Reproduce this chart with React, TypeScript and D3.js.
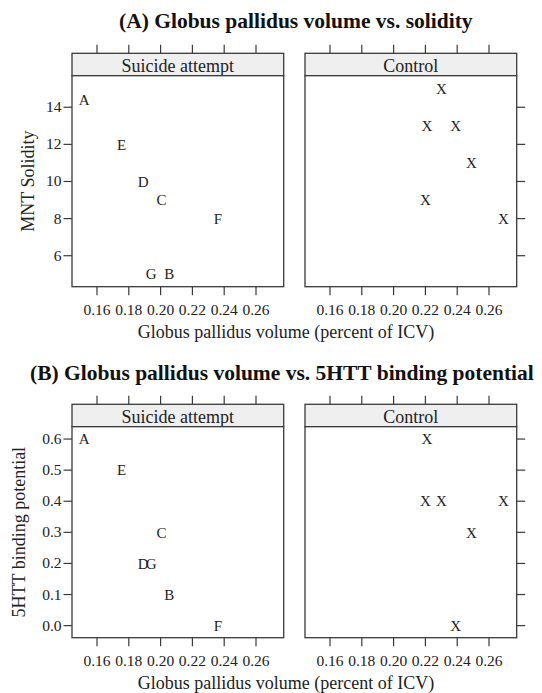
import React from "react";
import * as d3 from "d3";

// ---------- data ----------
const volumeTicks = [0.16, 0.18, 0.2, 0.22, 0.24, 0.26];
const solidityTicks = [6, 8, 10, 12, 14];
const bindingTicks = [0.0, 0.1, 0.2, 0.3, 0.4, 0.5, 0.6];

const suicideLabels = ["A", "B", "C", "D", "E", "F", "G"];
const suicideVolume = [0.152, 0.2055, 0.2005, 0.189, 0.1755, 0.236, 0.194];
const suicideSolidity = [14.4, 5, 9, 10, 12, 8, 5];
const suicideBinding = [0.6, 0.1, 0.3, 0.2, 0.5, 0.0, 0.2];

const controlVolume = [0.23, 0.221, 0.239, 0.249, 0.22, 0.269];
const controlSolidity = [15, 13, 13, 11, 9, 8];
const controlBinding = [0.4, 0.6, 0.0, 0.3, 0.4, 0.4];

const groupNames = ["Suicide attempt", "Control"];
const titleA = "(A) Globus pallidus volume vs. solidity";
const titleB = "(B) Globus pallidus volume vs. 5HTT binding potential";
const xLabel = "Globus pallidus volume (percent of ICV)";
const yLabelA = "MNT Solidity";
const yLabelB = "5HTT binding potential";

// ---------- layout ----------
const FONT = "'Liberation Serif', 'Times New Roman', serif";
const STROKE = "#3a3a3a";
const panelLefts = [72, 305];
const panelW = 211.7;
const TICK = 8.5;

type Pt = { label: string; x: number; y: number };

function Figure({
  top,
  title,
  titleX,
  titleY,
  titleAnchor,
  yLabel,
  yLabelX,
  yDomain,
  yTicks,
  yFmt,
  left,
  right,
}: {
  top: number;
  title: string;
  titleX: number;
  titleY: number;
  titleAnchor: string;
  yLabel: string;
  yLabelX: number;
  yDomain: [number, number];
  yTicks: number[];
  yFmt: (v: number) => string;
  left: Pt[];
  right: Pt[];
}) {
  const stripH = 22.4;
  const plotTop = top + stripH;
  const plotH = 211;
  const plotBottom = plotTop + plotH;
  const y = d3.scaleLinear().domain(yDomain).range([plotBottom, plotTop]);
  const labelCenterX = 286;

  const panels = [left, right].map((pts, i) => {
    const x0 = panelLefts[i];
    const x = d3.scaleLinear().domain([0.14428, 0.27742]).range([x0, x0 + panelW]);
    return (
      <g key={i}>
        {/* strip */}
        <rect x={x0} y={top} width={panelW} height={stripH} fill="#efefef" stroke={STROKE} strokeWidth={1.3} />
        <text x={x0 + panelW / 2} y={top + 18.8} textAnchor="middle" fontSize={18} fontFamily={FONT} fill="#222">
          {groupNames[i]}
        </text>
        {/* plot frame */}
        <rect x={x0} y={plotTop} width={panelW} height={plotH} fill="white" stroke={STROKE} strokeWidth={1.3} />
        {/* top ticks */}
        {volumeTicks.map((t) => (
          <line key={"tt" + t} x1={x(t)} x2={x(t)} y1={top} y2={top - TICK} stroke={STROKE} strokeWidth={1.2} />
        ))}
        {/* bottom ticks + labels */}
        {volumeTicks.map((t) => (
          <g key={"bt" + t}>
            <line x1={x(t)} x2={x(t)} y1={plotBottom} y2={plotBottom + TICK} stroke={STROKE} strokeWidth={1.2} />
            <text x={x(t)} y={plotBottom + 28.5} textAnchor="middle" fontSize={15.5} fontFamily={FONT} fill="#222">
              {d3.format(".2f")(t)}
            </text>
          </g>
        ))}
        {/* y ticks */}
        {i === 0
          ? yTicks.map((t) => (
              <g key={"yt" + t}>
                <line x1={x0} x2={x0 - TICK} y1={y(t)} y2={y(t)} stroke={STROKE} strokeWidth={1.2} />
                <text x={x0 - TICK - 2} y={y(t) + 5} textAnchor="end" fontSize={15.5} fontFamily={FONT} fill="#222">
                  {yFmt(t)}
                </text>
              </g>
            ))
          : yTicks.map((t) => (
              <line key={"yt" + t} x1={x0 + panelW} x2={x0 + panelW + TICK} y1={y(t)} y2={y(t)} stroke={STROKE} strokeWidth={1.2} />
            ))}
        {/* points */}
        {pts.map((p, k) => (
          <text
            key={k}
            x={x(p.x)}
            y={y(p.y) + 5.2}
            textAnchor="middle"
            fontSize={15}
            fontFamily={FONT}
            fill="#222"
          >
            {p.label}
          </text>
        ))}
      </g>
    );
  });

  return (
    <g>
      <text x={titleX} y={titleY} textAnchor={titleAnchor} fontSize={21.5} fontWeight="bold" fontFamily={FONT} fill="#111">
        {title}
      </text>
      {panels}
      <text x={labelCenterX} y={plotBottom + 51} textAnchor="middle" fontSize={18} fontFamily={FONT} fill="#222">
        {xLabel}
      </text>
      <text
        transform={`translate(${yLabelX},${(plotTop + plotBottom) / 2}) rotate(-90)`}
        textAnchor="middle"
        fontSize={18}
        fontFamily={FONT}
        fill="#222"
      >
        {yLabel}
      </text>
    </g>
  );
}

export default function App() {
  const leftA: Pt[] = suicideLabels.map((l, i) => ({ label: l, x: suicideVolume[i], y: suicideSolidity[i] }));
  const rightA: Pt[] = controlVolume.map((v, i) => ({ label: "X", x: v, y: controlSolidity[i] }));
  const leftB: Pt[] = suicideLabels.map((l, i) => ({ label: l, x: suicideVolume[i], y: suicideBinding[i] }));
  const rightB: Pt[] = controlVolume.map((v, i) => ({ label: "X", x: v, y: controlBinding[i] }));

  return (
    <svg
      width={542}
      height={693}
      style={{ position: "absolute", left: 0, top: 0, background: "white" }}
    >
      <rect width={542} height={693} fill="white" />
      <Figure
        top={53.3}
        title={titleA}
        titleX={295.8}
        titleY={28}
        titleAnchor="middle"
        yLabel={yLabelA}
        yLabelX={34}
        yDomain={[4.33, 15.7]}
        yTicks={solidityTicks}
        yFmt={(v) => String(v)}
        left={leftA}
        right={rightA}
      />
      <Figure
        top={404.3}
        title={titleB}
        titleX={30}
        titleY={379.5}
        titleAnchor="start"
        yLabel={yLabelB}
        yLabelX={25}
        yDomain={[-0.0388, 0.6397]}
        yTicks={bindingTicks}
        yFmt={(v) => d3.format(".1f")(v)}
        left={leftB}
        right={rightB}
      />
    </svg>
  );
}
